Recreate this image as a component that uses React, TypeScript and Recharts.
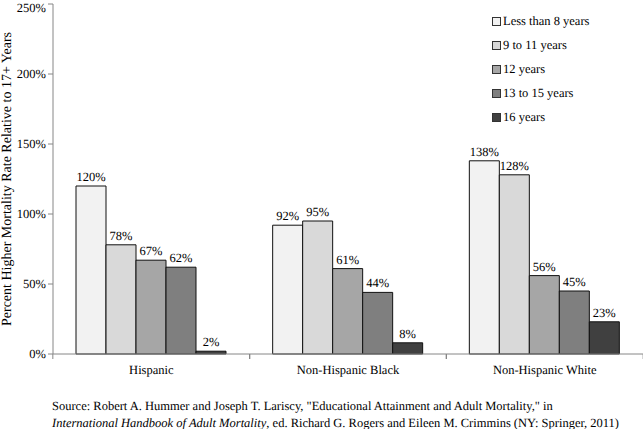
import { BarChart, Bar, XAxis, YAxis, LabelList } from 'recharts';

const groups = ['Hispanic', 'Non-Hispanic Black', 'Non-Hispanic White'];
const lessThan8 = [120, 92, 138];
const nineTo11 = [78, 95, 128];
const twelve = [67, 61, 56];
const thirteenTo15 = [62, 44, 45];
const sixteen = [2, 8, 23];
const yTicks = [0, 50, 100, 150, 200, 250];

const series = [
  { key: 'lt8', name: 'Less than 8 years', color: '#f2f2f2', values: lessThan8 },
  { key: 'y9to11', name: '9 to 11 years', color: '#d9d9d9', values: nineTo11 },
  { key: 'y12', name: '12 years', color: '#a6a6a6', values: twelve },
  { key: 'y13to15', name: '13 to 15 years', color: '#7f7f7f', values: thirteenTo15 },
  { key: 'y16', name: '16 years', color: '#404040', values: sixteen },
];

const data = groups.map((g, i) => {
  const row: Record<string, string | number> = { group: g };
  series.forEach((s) => (row[s.key] = s.values[i]));
  return row;
});

const font = 'Liberation Serif';
const fs = 12.5;
const HALF = 98.5;

function CategoryTick(props: any) {
  const { x, y, payload } = props;
  return (
    <g>
      <line x1={x - HALF} y1={y - 8} x2={x - HALF} y2={y - 3} stroke="#868686" />
      <line x1={x + HALF} y1={y - 8} x2={x + HALF} y2={y - 3} stroke="#868686" />
      <text x={x} y={y + 12} textAnchor="middle" fontSize={fs} fill="#000" fontFamily={font}>
        {payload.value}
      </text>
    </g>
  );
}

function LegendBox() {
  return (
    <div style={{ fontFamily: font, fontSize: fs, color: '#000', whiteSpace: 'nowrap' }}>
      {series.map((s) => (
        <div key={s.key} style={{ display: 'flex', alignItems: 'center', height: 24 }}>
          <span
            style={{
              display: 'inline-block',
              width: 7,
              height: 7,
              background: s.color,
              border: '1px solid #333',
              marginRight: 2,
            }}
          />
          {s.name}
        </div>
      ))}
    </div>
  );
}

export default function App() {
  return (
    <div
      style={{
        position: 'absolute',
        left: 0,
        top: 0,
        width: 643,
        height: 429,
        background: '#fff',
        fontFamily: font,
        textRendering: 'geometricPrecision',
      }}
    >
      <BarChart
        width={643}
        height={380}
        data={data}
        margin={{ top: 4, right: 0, left: 0, bottom: 0 }}
        barCategoryGap={23}
        barGap={0}
      >
        <XAxis
          dataKey="group"
          tickLine={false}
          axisLine={{ stroke: '#868686' }}
          tick={<CategoryTick />}
          height={26}
          interval={0}
        />
        <YAxis
          domain={[0, 250]}
          ticks={yTicks}
          width={53}
          tickFormatter={(v: number) => `${v}%`}
          tick={{ fontSize: fs, fill: '#000', fontFamily: font }}
          axisLine={{ stroke: '#868686' }}
          tickLine={{ stroke: '#868686' }}
          tickSize={5}
          label={{
            value: 'Percent Higher Mortality Rate Relative to 17+ Years',
            angle: -90,
            position: 'insideLeft',
            offset: 6,
            fontFamily: font,
            fontSize: 14,
            fill: '#000',
            style: { textAnchor: 'middle' },
          }}
        />
        {series.map((s) => (
          <Bar
            key={s.key}
            dataKey={s.key}
            name={s.name}
            fill={s.color}
            stroke="#111"
            strokeWidth={1}
            isAnimationActive={false}
          >
            <LabelList
              dataKey={s.key}
              position="top"
              offset={5}
              formatter={(v: any) => `${v}%`}
              fontFamily={font}
              fontSize={fs}
              fill="#000"
            />
          </Bar>
        ))}
      </BarChart>
      <div style={{ position: 'absolute', left: 492, top: 9 }}>
        <LegendBox />
      </div>
      <div
        style={{
          position: 'absolute',
          left: 52,
          top: 398,
          fontFamily: font,
          fontSize: fs,
          lineHeight: '17px',
          color: '#000',
          whiteSpace: 'nowrap',
        }}
      >
        <div>
          Source: Robert A. Hummer and Joseph T. Lariscy, "Educational Attainment and Adult Mortality," in
        </div>
        <div>
          <i>International Handbook of Adult Mortality</i>, ed. Richard G. Rogers and Eileen M. Crimmins (NY:
          Springer, 2011)
        </div>
      </div>
    </div>
  );
}
